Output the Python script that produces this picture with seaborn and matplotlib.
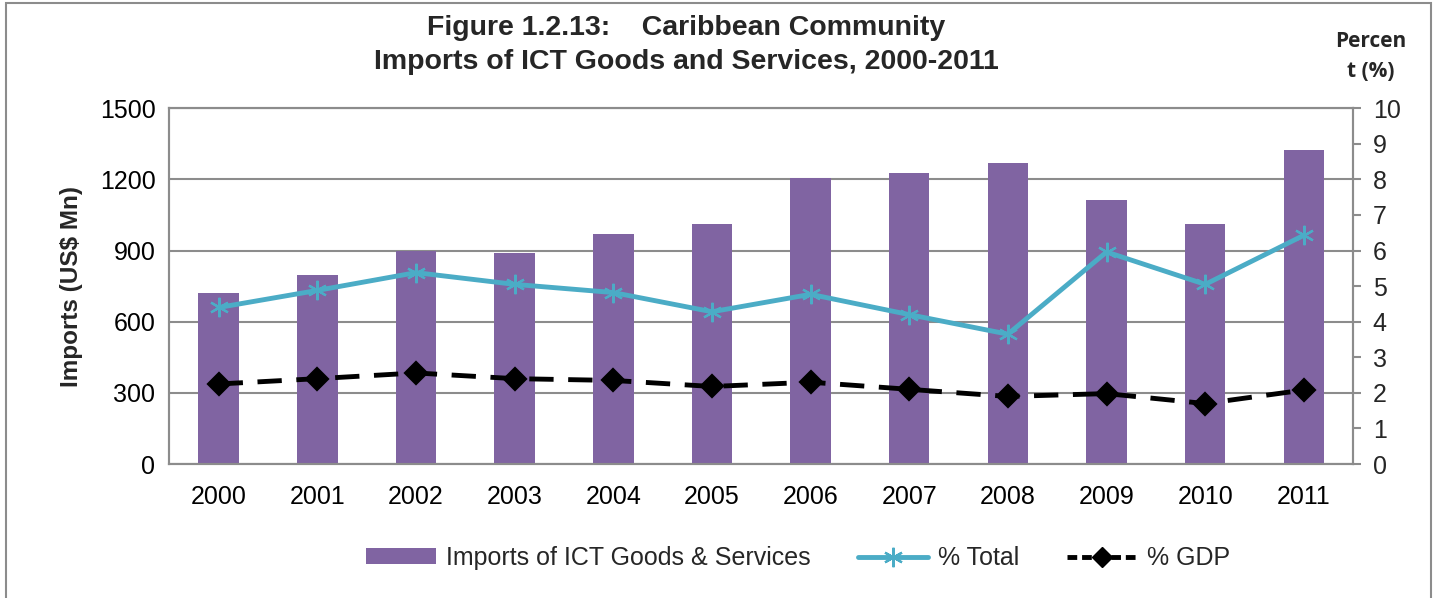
import matplotlib
matplotlib.use("Agg")
import matplotlib.pyplot as plt
import seaborn as sns
import numpy as np
from matplotlib.patches import Rectangle, Patch
from matplotlib.lines import Line2D

# data
years = ["2000", "2001", "2002", "2003", "2004", "2005",
         "2006", "2007", "2008", "2009", "2010", "2011"]
imports_mn = [722, 795, 900, 890, 970, 1010, 1205, 1228, 1270, 1115, 1010, 1325]
pct_total = [4.40, 4.88, 5.38, 5.05, 4.82, 4.28, 4.77, 4.20, 3.65, 5.96, 5.05, 6.43]
pct_gdp = [2.25, 2.40, 2.56, 2.40, 2.35, 2.18, 2.30, 2.10, 1.90, 1.98, 1.70, 2.08]

bar_color = "#8064A2"
total_color = "#4BACC6"
grid_color = "#8C8C8C"

sns.set_theme(style="white")
plt.rcParams["font.family"] = ["Liberation Sans", "DejaVu Sans"]

fig, ax = plt.subplots(figsize=(14.35, 5.98), dpi=100)
fig.subplots_adjust(left=0.118, right=0.943, top=0.819, bottom=0.224)

# ==========================================
# Bars on the left axis
# ==========================================
sns.barplot(x=years, y=imports_mn, ax=ax, color=bar_color, width=0.41,
            saturation=1, edgecolor="none", zorder=2)
ax.set_ylim(0, 1500)
ax.set_yticks(np.arange(0, 1501, 300))
ax.yaxis.grid(True, color=grid_color, linewidth=1.5, zorder=0)
ax.set_axisbelow(True)
ax.tick_params(axis="both", labelsize=18, length=0, colors="black")
ax.tick_params(axis="x", pad=15)
ax.tick_params(axis="y", pad=10)
ax.set_ylabel("Imports (US$ Mn)", fontsize=17.5, fontweight="bold", labelpad=12)
ax.set_xlabel("")
for side in ["left", "top", "right", "bottom"]:
    ax.spines[side].set_color(grid_color)
    ax.spines[side].set_linewidth(1.5)

# ==========================================
# Percent lines on the right axis
# ==========================================
ax2 = ax.twinx()
sns.pointplot(x=years, y=pct_total, ax=ax2, color=total_color, errorbar=None,
              marker=(6, 2, 0), markersize=14, markeredgewidth=1.6,
              linewidth=3.5, zorder=3)
sns.pointplot(x=years, y=pct_gdp, ax=ax2, color="black", errorbar=None,
              marker="D", markersize=10, linewidth=3.5,
              linestyle=(0, (5, 3)), zorder=4)
ax2.set_ylim(0, 10)
ax2.set_yticks(np.arange(0, 11, 1))
ax2.set_xlim(-0.5, len(years) - 0.5)
ax2.set_ylabel("")
ax2.grid(False)
ax2.tick_params(axis="y", labelsize=18, length=6, width=1.5,
                color=grid_color, pad=8, right=True)
for side in ["left", "top", "right", "bottom"]:
    ax2.spines[side].set_color(grid_color)
    ax2.spines[side].set_linewidth(1.5)

# ==========================================
# Titles and legend
# ==========================================
fig.text(0.478, 0.953, "Figure 1.2.13:    Caribbean Community",
         ha="center", va="center", fontsize=20.5, fontweight="bold")
fig.text(0.478, 0.897, "Imports of ICT Goods and Services, 2000-2011",
         ha="center", va="center", fontsize=20.5, fontweight="bold")
fig.text(0.955, 0.906, "Percen\nt (%)", ha="center", va="center",
         fontsize=15, fontweight="bold", linespacing=1.55,
         family=["Open Sans", "DejaVu Sans"])

handles = [
    Patch(facecolor=bar_color, edgecolor="none"),
    Line2D([], [], color=total_color, linewidth=3.5, marker=(6, 2, 0),
           markersize=14, markeredgewidth=1.6),
    Line2D([], [], color="black", linewidth=3.5, marker="D", markersize=10,
           linestyle=(0, (2, 1))),
]
labels = ["Imports of ICT Goods & Services", "% Total", "% GDP"]
fig.legend(handles, labels, loc="center", bbox_to_anchor=(0.556, 0.067),
           ncol=3, frameon=False, fontsize=18, handlelength=2.8,
           handleheight=0.6, columnspacing=1.9, handletextpad=0.4)

# outer chart border
fig.patches.append(Rectangle((0.004, -0.01), 0.993, 1.005, transform=fig.transFigure,
                             fill=False, edgecolor=grid_color, linewidth=1.5))

fig.savefig("out.png", dpi=100, facecolor="white")
plt.close(fig)
